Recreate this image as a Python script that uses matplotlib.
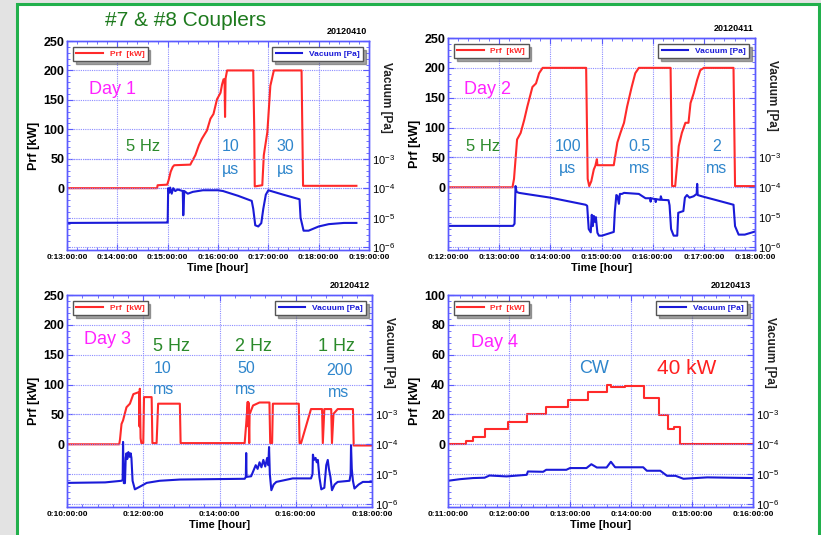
import matplotlib
matplotlib.use("Agg")
import numpy as np
import matplotlib.pyplot as plt
from matplotlib.patches import Rectangle
from matplotlib.ticker import MultipleLocator, AutoMinorLocator, FixedLocator, FuncFormatter, NullLocator

plt.rcParams['font.family'] = ['Liberation Sans', 'DejaVu Sans']
plt.rcParams['mathtext.default'] = 'regular'

# ---- data (time in hours, Prf in kW, vacuum in Pa) ----
day1_prf_t = [13.0, 14.79, 14.8, 14.99, 15.02, 15.06, 15.1, 15.13, 15.45, 15.48, 15.55, 15.62, 15.68,
              15.78, 15.85, 15.91, 15.98, 16.05, 16.08, 16.11, 16.13, 16.14, 16.15, 16.18, 16.70,
              16.72, 16.73, 16.88, 16.91, 16.98, 17.01, 17.04, 17.11, 17.66, 17.69, 18.75]
day1_prf_kw = [0, 0, 5, 6, 14, 28, 36, 39, 40, 45, 56, 73, 84, 98, 118, 126, 151, 162, 176, 185,
               185, 121, 186, 200, 200, 100, 3, 5, 56, 95, 134, 174, 200, 200, 4, 4]
day1_vac_t = [13.0, 14.98, 15.0, 15.01, 15.03, 15.05, 15.08, 15.11, 15.15, 15.2, 15.3, 15.31, 15.33,
              15.4, 15.5, 15.7, 16.0, 16.1, 16.4, 16.67, 16.70, 16.74, 16.8, 16.86, 16.9, 16.95,
              17.0, 17.3, 17.62, 17.64, 17.7, 17.8, 18.0, 18.2, 18.5, 18.75]
day1_vac_pa = [6.6e-6, 6.8e-6, 6.8e-6, 1.0e-4, 7e-5, 1.05e-4, 6.5e-5, 1.0e-4, 8e-5, 9e-5, 8e-5,
               1.2e-5, 8e-5, 6.5e-5, 7.5e-5, 8.5e-5, 8.5e-5, 8e-5, 5.5e-5, 3.7e-5, 2.0e-5, 5.5e-6,
               5.0e-6, 6.5e-6, 2e-5, 6e-5, 8.5e-5, 6e-5, 4.2e-5, 1e-5, 3.6e-6, 3.6e-6, 5.0e-6,
               6.0e-6, 6.6e-6, 6.6e-6]

day2_prf_t = [12.0, 13.26, 13.29, 13.35, 13.42, 13.49, 13.55, 13.65, 13.72, 13.78, 13.85, 14.70,
              14.73, 14.76, 14.80, 14.85, 14.88, 14.91, 14.92, 15.24, 15.31, 15.37, 15.44, 15.50,
              15.59, 15.66, 15.73, 16.35, 16.38, 16.44, 16.51, 16.57, 16.64, 16.70, 16.74, 16.80,
              16.87, 16.93, 17.0, 17.58, 17.61, 18.0]
day2_prf_kw = [0, 0, 14, 80, 91, 113, 135, 168, 174, 191, 200, 200, 14, 2, 10, 30, 36, 47, 37, 37,
               75, 91, 108, 135, 168, 191, 200, 200, 2, 2, 69, 91, 108, 108, 141, 157, 180, 196,
               200, 200, 2, 2]
day2_vac_t = [12.0, 13.27, 13.30, 13.32, 13.34, 13.39, 13.52, 14.0, 14.69, 14.72, 14.75, 14.79,
              14.81, 14.83, 14.85, 14.87, 14.89, 14.92, 14.95, 15.01, 15.24, 15.26, 15.29, 15.31,
              15.34, 15.36, 15.40, 15.44, 15.73, 15.86, 15.95, 15.96, 15.97, 16.05, 16.06, 16.07,
              16.15, 16.16, 16.18, 16.31, 16.33, 16.36, 16.41, 16.48, 16.50, 16.55, 16.60, 16.63,
              16.67, 16.72, 16.80, 16.86, 16.87, 16.88, 16.96, 17.3, 17.58, 17.61, 17.68, 17.8, 18.0]
day2_vac_pa = [5.1e-6, 5.1e-6, 6e-6, 1.1e-4, 7e-5, 6.5e-5, 6e-5, 4.5e-5, 2.6e-5, 2.4e-5, 4e-6,
               3.1e-6, 1.2e-5, 5e-6, 1.1e-5, 7e-6, 1.0e-5, 3e-6, 2.4e-6, 2.4e-6, 3.2e-6, 1.5e-5,
               5.5e-5, 5.2e-5, 2.8e-5, 6e-5, 6e-5, 6.5e-5, 6e-5, 4.3e-5, 4.3e-5, 3.3e-5, 4.3e-5,
               4.0e-5, 3.2e-5, 4.0e-5, 3.8e-5, 5e-5, 3.8e-5, 3.7e-5, 2.5e-5, 4e-6, 2.4e-6, 2.4e-6,
               1.4e-5, 1.5e-5, 1.6e-5, 4.5e-5, 5.5e-5, 4.5e-5, 5e-5, 6e-5, 1.3e-4, 5.5e-5, 5e-5,
               3.5e-5, 2.6e-5, 5e-6, 2.6e-6, 2.6e-6, 3.3e-6]

day3_prf_t = [10.0, 11.37, 11.39, 11.43, 11.47, 11.56, 11.65, 11.74, 11.87, 11.89, 11.90, 11.91,
              11.93, 11.95, 12.0, 12.02, 12.22, 12.24, 12.35, 12.39, 12.96, 12.98, 14.66, 14.70,
              14.74, 14.75, 14.76, 14.78, 14.79, 14.83, 14.88, 15.05, 15.31, 15.33, 15.38, 15.40,
              16.08, 16.10, 16.14, 16.40, 16.69, 16.71, 16.75, 16.93, 16.95, 16.99, 17.10, 17.50,
              17.52, 18.0]
day3_prf_kw = [0, 0, 8, 34, 40, 62, 68, 84, 87, 87, 30, 93, 10, 2, 2, 79, 79, 2, 2, 68, 68, 2, 2,
               34, 71, 30, 70, 2, 50, 57, 65, 70, 70, 2, 2, 68, 68, 2, 2, 59, 59, 2, 59, 59, 2, 51,
               59, 59, -2, -2]
day3_vac_t = [10.0, 11.0, 11.43, 11.46, 11.47, 11.49, 11.52, 11.54, 11.56, 11.58, 11.61, 11.64,
              11.67, 11.69, 11.72, 11.78, 11.91, 12.09, 12.43, 12.96, 14.66, 14.69, 14.70, 14.71,
              14.83, 14.90, 14.95, 15.0, 15.05, 15.10, 15.15, 15.20, 15.25, 15.28, 15.30, 15.32,
              15.36, 15.42, 15.49, 15.92, 16.40, 16.44, 16.45, 16.48, 16.52, 16.55, 16.58, 16.62,
              16.67, 16.75, 16.80, 16.84, 16.87, 16.91, 16.95, 17.02, 17.10, 17.41, 17.44, 17.45,
              17.47, 17.50, 17.54, 17.65, 17.76, 18.0]
day3_vac_pa = [5.1e-6, 5.3e-6, 6e-6, 6.5e-6, 1.2e-4, 5e-6, 5e-6, 3.5e-5, 5e-5, 3.2e-5, 5.5e-5,
               3.8e-5, 5e-5, 3.5e-5, 6e-6, 3.1e-6, 3.8e-6, 5.1e-6, 6e-6, 6.6e-6, 7e-6, 8e-6, 5.1e-5,
               8.1e-6, 8.5e-6, 1.4e-5, 2e-5, 1.5e-5, 2.5e-5, 1.7e-5, 3e-5, 1.8e-5, 3.5e-5, 2e-5,
               8.1e-5, 1e-5, 2.9e-6, 4.5e-6, 5.5e-6, 7.2e-6, 7.2e-6, 1e-5, 4.5e-5, 3e-5, 3.5e-5,
               2.5e-5, 3e-5, 8e-6, 3.1e-6, 3.5e-6, 2e-5, 3e-5, 1.5e-5, 8e-6, 2.9e-6, 4.5e-6, 5.5e-6,
               6e-6, 1e-5, 9.3e-5, 1.5e-5, 6e-6, 3.3e-6, 4.5e-6, 5.5e-6, 5.5e-6]

day4_prf_t = [11.0, 11.30, 11.41, 11.60, 11.98, 12.29, 12.60, 12.96, 13.29, 13.60, 13.68, 13.90,
              14.22, 14.46, 14.61, 14.70, 14.81, 16.0]
day4_prf_kw = [0, 2.2, 5.1, 10.4, 15.1, 20.4, 25.1, 30, 35.1, 39.6, 38.2, 38.9, 31.1, 19.6, 10,
               11.6, 0, 0]
day4_vac_t = [11.0, 11.2, 11.41, 11.60, 11.68, 11.96, 12.29, 12.31, 12.56, 12.61, 12.94, 13.0,
              13.27, 13.35, 13.44, 13.60, 13.67, 13.74, 14.20, 14.26, 14.48, 14.59, 14.73, 14.86,
              15.25, 16.0]
day4_vac_pa = [6e-6, 6.8e-6, 7.4e-6, 7.6e-6, 9e-6, 8.4e-6, 9.5e-6, 1.23e-5, 1.2e-5, 1.4e-5,
               1.4e-5, 1.6e-5, 1.6e-5, 2.15e-5, 1.67e-5, 1.67e-5, 2.6e-5, 1.7e-5, 1.7e-5, 1.3e-5,
               1.3e-5, 8.8e-6, 8.8e-6, 7e-6, 7.8e-6, 7.4e-6]

dates = ['20120410', '20120411', '20120412', '20120413']

MAGENTA = '#ff22ff'
GREEN = '#2b8a2b'
BLUE_TXT = '#2f86cc'
RED = '#ff2a2a'
VAC = '#1a1ad8'
FRAME = '#5a5aff'
GRID = '#8c8cff'


def hour_fmt(x, pos):
    return "0:%02d:00:00" % int(round(x))


def pow_fmt(v, pos):
    return r"$10^{%d}$" % int(round(np.log10(v)))


def draw_panel(rect, prf_t, prf_kw, vac_t, vac_pa, xlim, xstep, ylim, ystep, date, texts,
               steps=False, show_xlabel=True):
    ax = fig.add_axes(rect)
    ax2 = ax.twinx()
    ds = 'steps-post' if steps else 'default'
    l1, = ax.plot(prf_t, prf_kw, color=RED, lw=1.5, drawstyle=ds)
    l2, = ax2.plot(vac_t, vac_pa, color=VAC, lw=1.5)

    ax.set_xlim(*xlim)
    ax.set_ylim(*ylim)
    ax.xaxis.set_major_locator(MultipleLocator(xstep))
    ax.xaxis.set_minor_locator(AutoMinorLocator(5))
    ax.xaxis.set_major_formatter(FuncFormatter(hour_fmt))
    ax.yaxis.set_major_locator(FixedLocator(list(np.arange(0, ylim[1] + 1, ystep))))
    ax.yaxis.set_minor_locator(MultipleLocator(ystep / 5))

    # log axis: one decade = one left major step, 1e-4 lines up with Prf = 0
    ax2.set_yscale('log')
    ax2.set_ylim(10 ** (-4 + ylim[0] / ystep), 10 ** (-4 + ylim[1] / ystep))
    ax2.yaxis.set_major_locator(FixedLocator([1e-6, 1e-5, 1e-4, 1e-3]))
    ax2.yaxis.set_minor_locator(NullLocator())
    ax2.yaxis.set_major_formatter(FuncFormatter(pow_fmt))

    ax.grid(True, which='major', color=GRID, linestyle=(0, (1, 1)), lw=0.8)
    ax2.grid(True, which='major', axis='y', color=GRID, linestyle=(0, (1, 1)), lw=0.8)

    for a in (ax, ax2):
        for s in a.spines.values():
            s.set_color(FRAME)
            s.set_linewidth(1.0)
    ax.tick_params(which='both', direction='in', color=FRAME, top=True, right=True)
    ax.tick_params(which='major', length=4)
    ax.tick_params(which='minor', length=2.5)
    ax.tick_params(axis='y', labelsize=9, pad=2)
    ax.tick_params(axis='x', labelsize=6, pad=3)
    ax2.tick_params(which='both', direction='in', color=FRAME, length=4, labelsize=8, pad=2)
    for lab in ax.get_xticklabels() + ax.get_yticklabels():
        lab.set_fontweight('bold')

    ax.set_ylabel('Prf [kW]', fontsize=9, fontweight='bold', labelpad=2)
    ax2.set_ylabel('Vacuum [Pa]', fontsize=8.5, rotation=270, fontweight='bold', color='#222222')
    ax2.yaxis.set_label_coords(1.075, 0.73)
    if show_xlabel:
        ax.set_xlabel('Time [hour]', fontsize=8, fontweight='bold', labelpad=1)

    leg1 = ax.legend([l1], ['Prf  [kW]'], loc='upper left', fancybox=False,
                     shadow=True, framealpha=1, edgecolor='#555555', labelcolor=RED,
                     handlelength=3.2, borderaxespad=0.7, borderpad=0.4, prop={'weight': 'bold', 'size': 6})
    leg1.get_frame().set_linewidth(1.0)
    leg2 = ax2.legend([l2], ['Vacuum [Pa]'], loc='upper right', fancybox=False,
                      shadow=True, framealpha=1, edgecolor='#555555', labelcolor=VAC,
                      handlelength=3.2, borderaxespad=0.7, borderpad=0.4, prop={'weight': 'bold', 'size': 6})
    leg2.get_frame().set_linewidth(1.0)

    ax.text(0.995, 1.025, date, transform=ax.transAxes, ha='right', va='bottom',
            fontsize=6.5, fontweight='bold')
    for (x, y, s, c, fs) in texts:
        ax2.text(x, y, s, transform=ax.transAxes, ha='center', va='center', color=c, fontsize=fs)
    return ax, ax2


fig = plt.figure(figsize=(8.21, 5.35), dpi=100)
fig.patch.set_facecolor('#e3e3e3')
fig.add_artist(Rectangle((17 / 821, -0.05), (819 - 17) / 821, 1.05 - 4 / 535,
                         transform=fig.transFigure, facecolor='white', edgecolor='#22b04c',
                         linewidth=2.2, zorder=-1))

fig.text(186 / 821, 1 - 20 / 535, '#7 & #8 Couplers', color='#1d7a1d', fontsize=15,
         ha='center', va='center')

texts1 = [(0.152, 0.766, 'Day 1', MAGENTA, 13), (0.252, 0.493, '5 Hz', GREEN, 12),
          (0.543, 0.493, '10', BLUE_TXT, 11.5), (0.543, 0.383, 'µs', BLUE_TXT, 11.5),
          (0.722, 0.493, '30', BLUE_TXT, 11.5), (0.722, 0.383, 'µs', BLUE_TXT, 11.5)]
texts2 = [(0.13, 0.755, 'Day 2', MAGENTA, 13), (0.114, 0.487, '5 Hz', GREEN, 12),
          (0.39, 0.487, '100', BLUE_TXT, 11.5), (0.39, 0.385, 'µs', BLUE_TXT, 11.5),
          (0.625, 0.487, '0.5', BLUE_TXT, 11.5), (0.625, 0.385, 'ms', BLUE_TXT, 11.5),
          (0.876, 0.487, '2', BLUE_TXT, 11.5), (0.876, 0.385, 'ms', BLUE_TXT, 11.5)]
texts3 = [(0.133, 0.788, 'Day 3', MAGENTA, 13), (0.344, 0.755, '5 Hz', GREEN, 13),
          (0.315, 0.651, '10', BLUE_TXT, 11.5), (0.318, 0.555, 'ms', BLUE_TXT, 11.5),
          (0.61, 0.755, '2 Hz', GREEN, 13), (0.587, 0.651, '50', BLUE_TXT, 11.5),
          (0.587, 0.555, 'ms', BLUE_TXT, 11.5), (0.885, 0.755, '1 Hz', GREEN, 13),
          (0.892, 0.646, '200', BLUE_TXT, 11.5), (0.89, 0.541, 'ms', BLUE_TXT, 11.5)]
texts4 = [(0.154, 0.778, 'Day 4', MAGENTA, 13), (0.479, 0.651, 'CW', BLUE_TXT, 13),
          (0.784, 0.651, '40 kW', '#ff2020', 15)]

draw_panel([67 / 821, 1 - 250 / 535, 302 / 821, 209 / 535], day1_prf_t, day1_prf_kw,
           day1_vac_t, day1_vac_pa, (13, 19), 1, (-105, 250), 50, dates[0], texts1)
draw_panel([448 / 821, 1 - 250 / 535, 307 / 821, 212 / 535], day2_prf_t, day2_prf_kw,
           day2_vac_t, day2_vac_pa, (12, 18), 1, (-105, 250), 50, dates[1], texts2)
draw_panel([67 / 821, 1 - 507 / 535, 305 / 821, 212 / 535], day3_prf_t, day3_prf_kw,
           day3_vac_t, day3_vac_pa, (10, 18), 2, (-105, 250), 50, dates[2], texts3)
draw_panel([448 / 821, 1 - 507 / 535, 305 / 821, 212 / 535], day4_prf_t, day4_prf_kw,
           day4_vac_t, day4_vac_pa, (11, 16), 1, (-42, 100), 20, dates[3], texts4, steps=True)

fig.savefig('out.png', dpi=100, facecolor=fig.get_facecolor())
